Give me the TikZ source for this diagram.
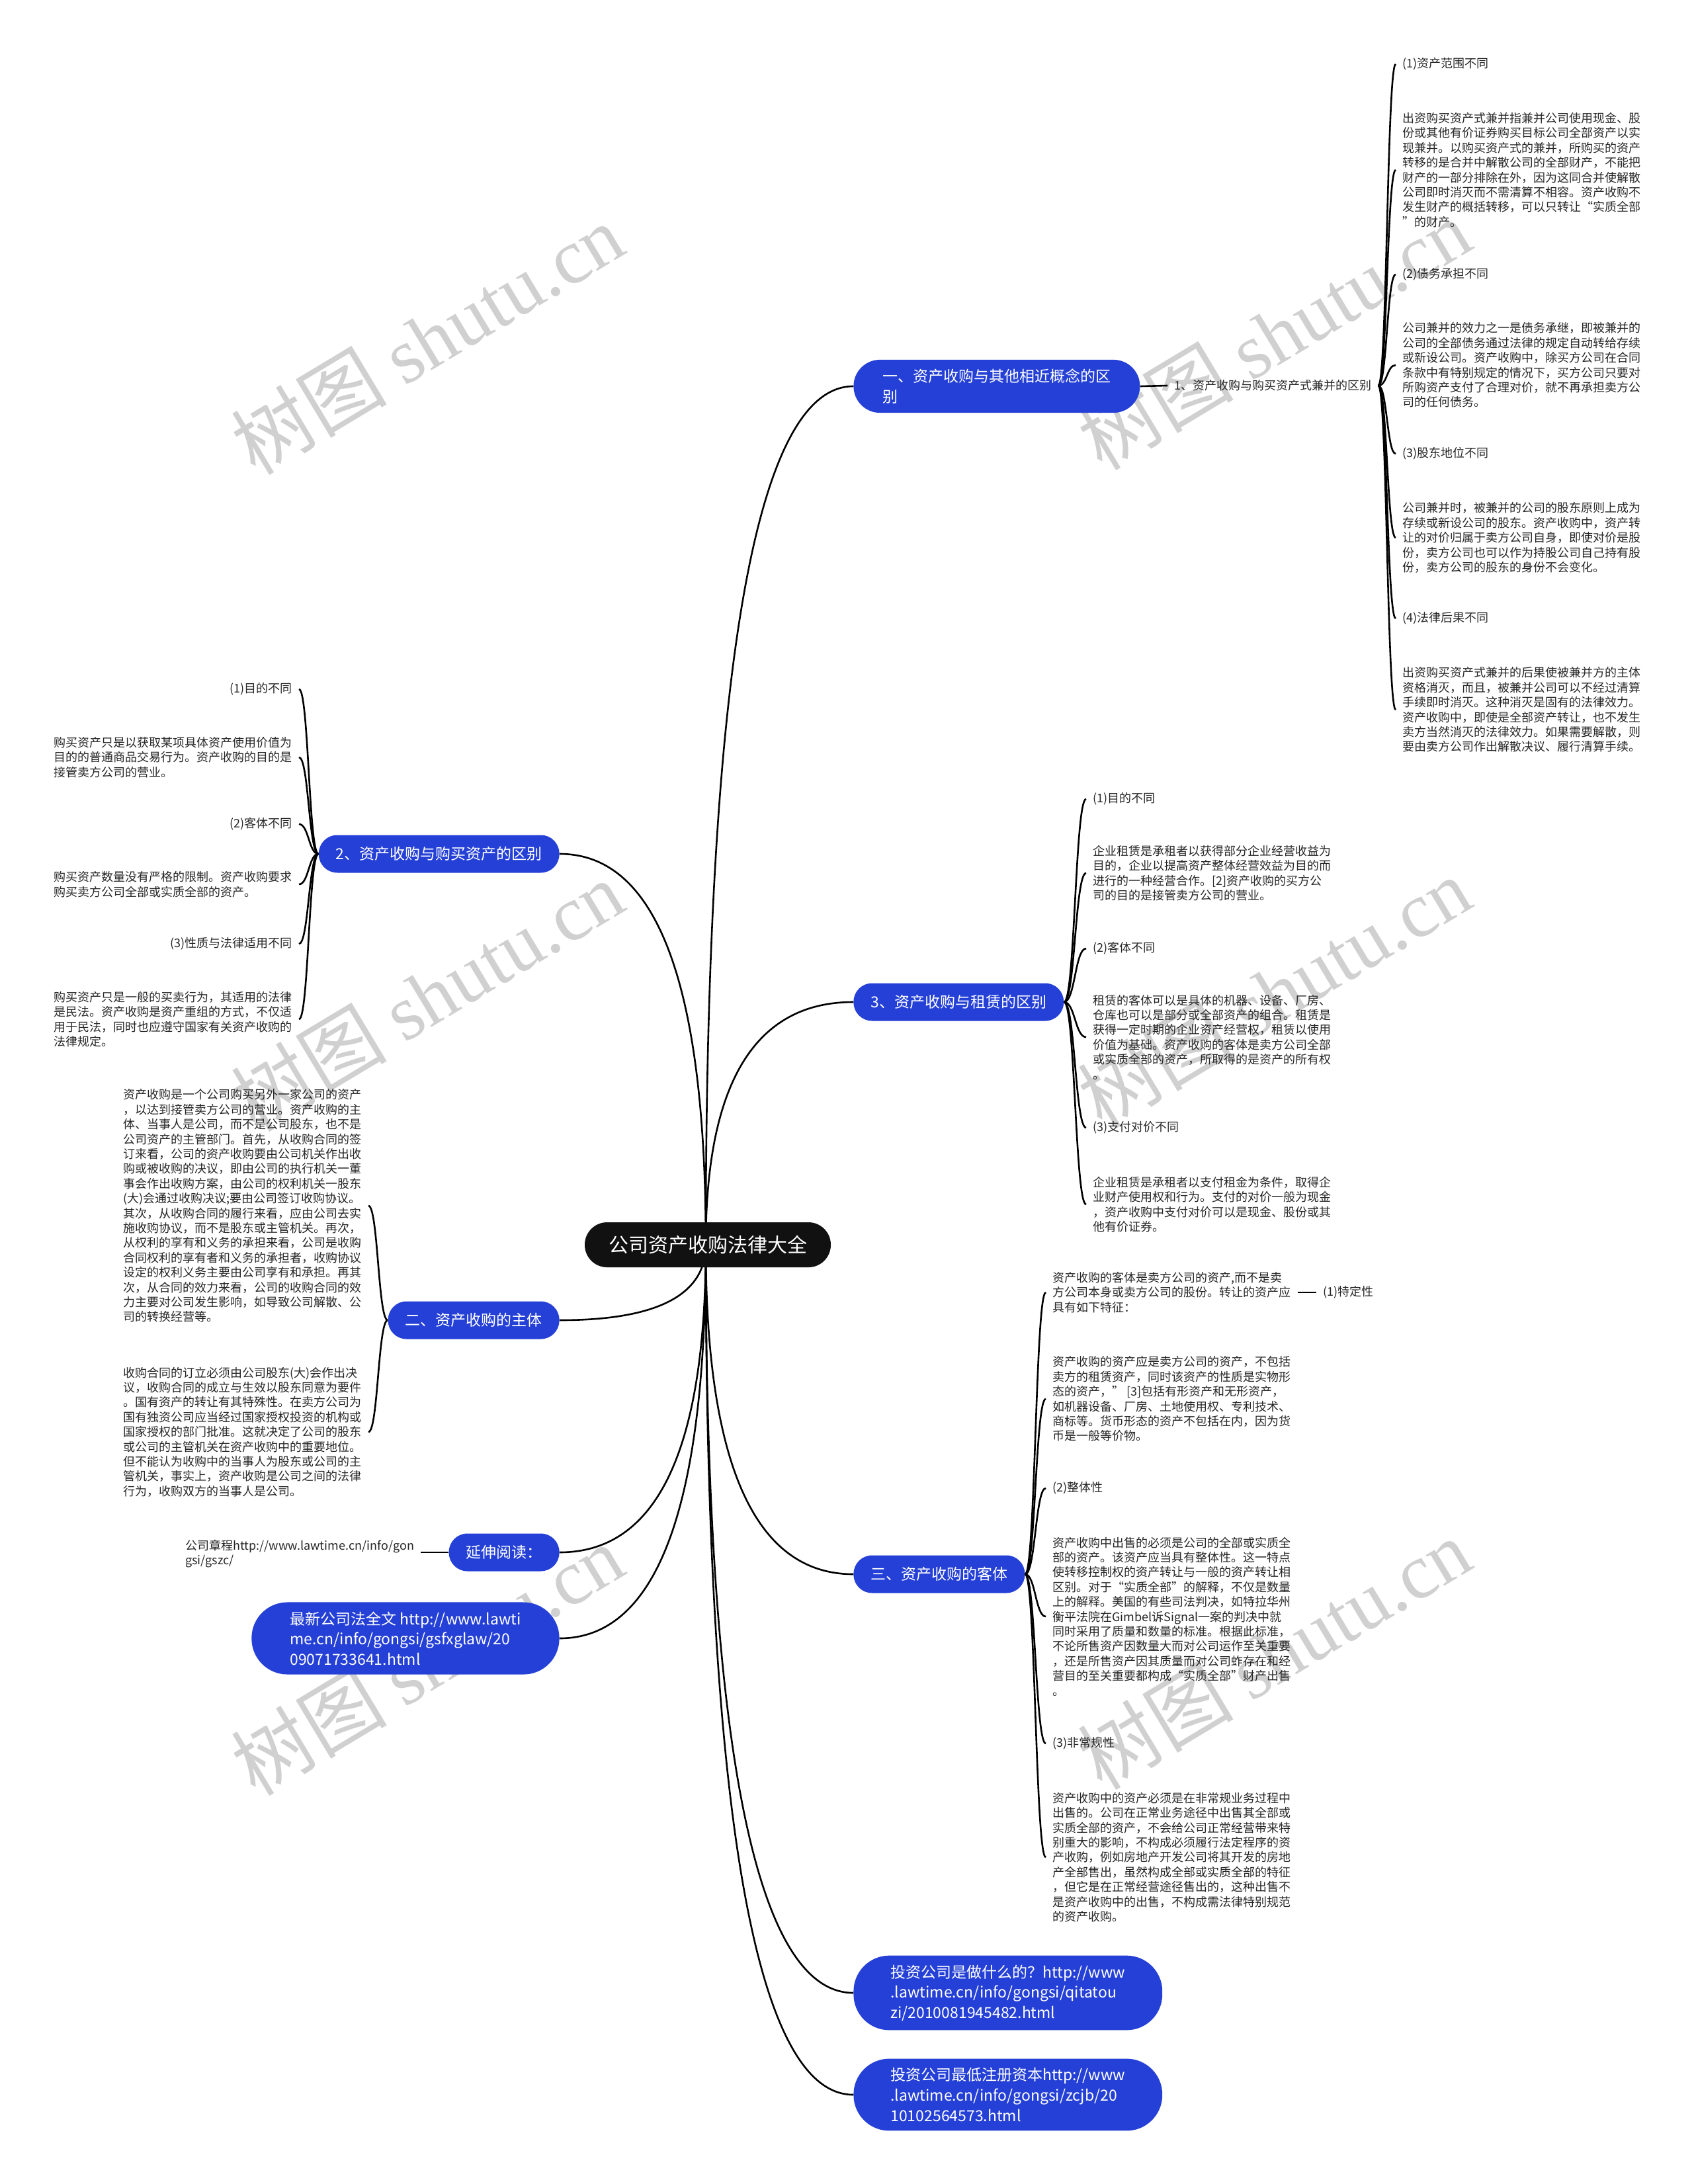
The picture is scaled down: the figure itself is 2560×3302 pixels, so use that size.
\documentclass[tikz,border=0pt]{standalone}
\usepackage{fontspec}
\setmainfont{Noto Sans CJK SC}
\newfontfamily\wmserif{Liberation Serif}
\usetikzlibrary{calc}
\definecolor{nodeblue}{RGB}{37,64,214}
\definecolor{rootblack}{RGB}{17,17,17}
\definecolor{wmgray}{RGB}{208,208,208}
\tikzset{
  conn/.style={line width=1.3pt, black},
  txt/.style={font=\fontsize{9.0}{11.2}\selectfont, inner xsep=5pt, inner ysep=2pt, align=left, text=black!85},
  bluebox/.style={fill=nodeblue, text=white, font=\fontsize{11.5}{15.3}\selectfont, rounded corners=14pt, minimum height=28.5pt, inner xsep=13pt, inner ysep=4pt},
  bluemulti/.style={fill=nodeblue, text=white, font=\fontsize{11.5}{15.3}\selectfont, align=left, inner ysep=7pt},
  rootbox/.style={fill=rootblack, text=white, font=\fontsize{15}{18}\selectfont, rounded corners=16.9pt, minimum height=34pt, inner xsep=18pt},
  wm/.style={text=wmgray, font=\fontsize{59}{62}\selectfont, rotate=31, inner sep=0pt}
}
\newcommand\cedge[1]{\draw[conn] let \p1=(S), \p2=(#1) in (\p1) .. controls (\x1,{\y1+2/3*(\y2-\y1)}) and ({\x2+2/3*(\x1-\x2)},\y2) .. (\p2);}
\newcommand\bedge[2]{\draw[conn] let \p1=(#1), \p2=(#2) in (\p1) .. controls ({(\x1+\x2)/2},\y1) and ({(\x1+\x2)/2},\y2) .. (\p2);}
\begin{document}
\begin{tikzpicture}[x=0.5pt,y=-0.5pt]
\fill[white] (0,0) rectangle (2560,3302);
\useasboundingbox (0,0) rectangle (2560,3302);
% watermarks
\node[wm] (w1) at (646,512) {树图 {\wmserif shutu.cn}};
\node[wm] (w2) at (646,1505) {树图 {\wmserif shutu.cn}};
\node[wm] (w3) at (646,2509) {树图 {\wmserif shutu.cn}};
\node[wm] (w4) at (1926,505) {树图 {\wmserif shutu.cn}};
\node[wm] (w5) at (1926,1500) {树图 {\wmserif shutu.cn}};
\node[wm] (w6) at (1926,2500) {树图 {\wmserif shutu.cn}};

\coordinate (S) at (1067,1882);

% ---------- branch 一 ----------
\node[bluemulti, anchor=west, rounded corners=20pt, inner xsep=22pt] (b1) at (1290,584) {一、资产收购与其他相近概念的区\\别};
\node[txt, anchor=west] (s1) at (1765,583) {1、资产收购与购买资产式兼并的区别};
\draw[conn] (b1.east) -- (s1.west);
\node[txt, anchor=west] (c11) at (2110,97) {(1)资产范围不同};
\node[txt, anchor=west] (c12) at (2110,257) {出资购买资产式兼并指兼并公司使用现金、股\\份或其他有价证券购买目标公司全部资产以实\\现兼并。以购买资产式的兼并，所购买的资产\\转移的是合并中解散公司的全部财产，不能把\\财产的一部分排除在外，因为这同合并使解散\\公司即时消灭而不需清算不相容。资产收购不\\发生财产的概括转移，可以只转让“实质全部\\”的财产。};
\node[txt, anchor=west] (c13) at (2110,415) {(2)债务承担不同};
\node[txt, anchor=west] (c14) at (2110,552) {公司兼并的效力之一是债务承继，即被兼并的\\公司的全部债务通过法律的规定自动转给存续\\或新设公司。资产收购中，除买方公司在合同\\条款中有特别规定的情况下，买方公司只要对\\所购资产支付了合理对价，就不再承担卖方公\\司的任何债务。};
\node[txt, anchor=west] (c15) at (2110,686) {(3)股东地位不同};
\node[txt, anchor=west] (c16) at (2110,813) {公司兼并时，被兼并的公司的股东原则上成为\\存续或新设公司的股东。资产收购中，资产转\\让的对价归属于卖方公司自身，即使对价是股\\份，卖方公司也可以作为持股公司自己持有股\\份，卖方公司的股东的身份不会变化。};
\node[txt, anchor=west] (c17) at (2110,935) {(4)法律后果不同};
\node[txt, anchor=west] (c18) at (2110,1073) {出资购买资产式兼并的后果使被兼并方的主体\\资格消灭，而且，被兼并公司可以不经过清算\\手续即时消灭。这种消灭是固有的法律效力。\\资产收购中，即使是全部资产转让，也不发生\\卖方当然消灭的法律效力。如果需要解散，则\\要由卖方公司作出解散决议、履行清算手续。};
\foreach \c in {c11,c12,c13,c14,c15,c16,c17,c18} {\bedge{s1.east}{\c.west}}

% ---------- branch 2 ----------
\node[bluebox, anchor=east] (b2) at (846,1291) {2、资产收购与购买资产的区别};
\node[txt, anchor=east, align=right] (c21) at (452,1042) {(1)目的不同};
\node[txt, anchor=east] (c22) at (452,1145) {购买资产只是以获取某项具体资产使用价值为\\目的的普通商品交易行为。资产收购的目的是\\接管卖方公司的营业。};
\node[txt, anchor=east, align=right] (c23) at (452,1246) {(2)客体不同};
\node[txt, anchor=east] (c24) at (452,1337) {购买资产数量没有严格的限制。资产收购要求\\购买卖方公司全部或实质全部的资产。};
\node[txt, anchor=east, align=right] (c25) at (452,1427) {(3)性质与法律适用不同};
\node[txt, anchor=east] (c26) at (452,1541) {购买资产只是一般的买卖行为，其适用的法律\\是民法。资产收购是资产重组的方式，不仅适\\用于民法，同时也应遵守国家有关资产收购的\\法律规定。};
\foreach \c in {c21,c22,c23,c24,c25,c26} {\bedge{b2.west}{\c.east}}

% ---------- branch 二 ----------
\node[bluebox, anchor=east] (b3) at (846,1996) {二、资产收购的主体};
\node[txt, anchor=east] (c31) at (557,1823) {资产收购是一个公司购买另外一家公司的资产\\，以达到接管卖方公司的营业。资产收购的主\\体、当事人是公司，而不是公司股东，也不是\\公司资产的主管部门。首先，从收购合同的签\\订来看，公司的资产收购要由公司机关作出收\\购或被收购的决议，即由公司的执行机关一董\\事会作出收购方案，由公司的权利机关一股东\\(大)会通过收购决议;要由公司签订收购协议。\\其次，从收购合同的履行来看，应由公司去实\\施收购协议，而不是股东或主管机关。再次，\\从权利的享有和义务的承担来看，公司是收购\\合同权利的享有者和义务的承担者，收购协议\\设定的权利义务主要由公司享有和承担。再其\\次，从合同的效力来看，公司的收购合同的效\\力主要对公司发生影响，如导致公司解散、公\\司的转换经营等。};
\node[txt, anchor=east] (c32) at (557,2165) {收购合同的订立必须由公司股东(大)会作出决\\议，收购合同的成立与生效以股东同意为要件\\。国有资产的转让有其特殊性。在卖方公司为\\国有独资公司应当经过国家授权投资的机构或\\国家授权的部门批准。这就决定了公司的股东\\或公司的主管机关在资产收购中的重要地位。\\但不能认为收购中的当事人为股东或公司的主\\管机关，事实上，资产收购是公司之间的法律\\行为，收购双方的当事人是公司。};
\foreach \c in {c31,c32} {\bedge{b3.west}{\c.east}}

% ---------- 延伸阅读 ----------
\node[bluebox, anchor=east] (b4) at (846,2347) {延伸阅读：};
\node[txt, anchor=west] (c41) at (270,2349) {公司章程http://www.lawtime.cn/info/gon\\gsi/gszc/};
\draw[conn] (b4.west) -- (b4.west -| c41.east);

% ---------- 最新公司法全文 ----------
\node[bluemulti, anchor=east, inner xsep=29pt, rounded corners=27pt] (b5) at (846,2477) {最新公司法全文 http://www.lawti\\me.cn/info/gongsi/gsfxglaw/20\\09071733641.html};

% ---------- branch 3 ----------
\node[bluebox, anchor=west] (b6) at (1290,1515) {3、资产收购与租赁的区别};
\node[txt, anchor=west] (c61) at (1642,1208) {(1)目的不同};
\node[txt, anchor=west] (c62) at (1642,1320) {企业租赁是承租者以获得部分企业经营收益为\\目的，企业以提高资产整体经营效益为目的而\\进行的一种经营合作。[2]资产收购的买方公\\司的目的是接管卖方公司的营业。};
\node[txt, anchor=west] (c63) at (1642,1434) {(2)客体不同};
\node[txt, anchor=west] (c64) at (1642,1568) {租赁的客体可以是具体的机器、设备、厂房、\\仓库也可以是部分或全部资产的组合。租赁是\\获得一定时期的企业资产经营权，租赁以使用\\价值为基础。资产收购的客体是卖方公司全部\\或实质全部的资产，所取得的是资产的所有权\\。};
\node[txt, anchor=west] (c65) at (1642,1705) {(3)支付对价不同};
\node[txt, anchor=west] (c66) at (1642,1821) {企业租赁是承租者以支付租金为条件，取得企\\业财产使用权和行为。支付的对价一般为现金\\，资产收购中支付对价可以是现金、股份或其\\他有价证券。};
\foreach \c in {c61,c62,c63,c64,c65,c66} {\bedge{b6.east}{\c.west}}

% ---------- branch 三 ----------
\node[bluebox, anchor=west] (b7) at (1290,2380) {三、资产收购的客体};
\node[txt, anchor=west] (c71) at (1581,1954) {资产收购的客体是卖方公司的资产,而不是卖\\方公司本身或卖方公司的股份。转让的资产应\\具有如下特征：};
\node[txt, anchor=west] (c71a) at (1990,1954) {(1)特定性};
\draw[conn] (c71.east) -- (c71a.west);
\node[txt, anchor=west] (c72) at (1581,2115) {资产收购的资产应是卖方公司的资产，不包括\\卖方的租赁资产，同时该资产的性质是实物形\\态的资产，” [3]包括有形资产和无形资产，\\如机器设备、厂房、土地使用权、专利技术、\\商标等。货币形态的资产不包括在内，因为货\\币是一般等价物。};
\node[txt, anchor=west] (c73) at (1581,2250) {(2)整体性};
\node[txt, anchor=west] (c74) at (1581,2444) {资产收购中出售的必须是公司的全部或实质全\\部的资产。该资产应当具有整体性。这一特点\\使转移控制权的资产转让与一般的资产转让相\\区别。对于“实质全部”的解释，不仅是数量\\上的解释。美国的有些司法判决，如特拉华州\\衡平法院在Gimbel诉Signal一案的判决中就\\同时采用了质量和数量的标准。根据此标准，\\不论所售资产因数量大而对公司运作至关重要\\，还是所售资产因其质量而对公司蚱存在和经\\营目的至关重要都构成“实质全部”财产出售\\。};
\node[txt, anchor=west] (c75) at (1581,2636) {(3)非常规性};
\node[txt, anchor=west] (c76) at (1581,2808) {资产收购中的资产必须是在非常规业务过程中\\出售的。公司在正常业务途径中出售其全部或\\实质全部的资产，不会给公司正常经营带来特\\别重大的影响，不构成必须履行法定程序的资\\产收购，例如房地产开发公司将其开发的房地\\产全部售出，虽然构成全部或实质全部的特征\\，但它是在正常经营途径售出的，这种出售不\\是资产收购中的出售，不构成需法律特别规范\\的资产收购。};
\foreach \c in {c71,c72,c73,c74,c75,c76} {\bedge{b7.east}{\c.west}}

% ---------- bottom links ----------
\node[bluemulti, anchor=west, inner xsep=28pt, rounded corners=27pt] (b8) at (1290,3013) {投资公司是做什么的？http://www\\.lawtime.cn/info/gongsi/qitatou\\zi/2010081945482.html};
\node[bluemulti, anchor=west, inner xsep=28pt, rounded corners=27pt] (b9) at (1290,3167) {投资公司最低注册资本http://www\\.lawtime.cn/info/gongsi/zcjb/20\\10102564573.html};

% ---------- root edges ----------
\cedge{b1.west}
\cedge{b2.east}
\cedge{b3.east}
\cedge{b4.east}
\cedge{b5.east}
\cedge{b6.west}
\cedge{b7.west}
\cedge{b8.west}
\cedge{b9.west}

\node[rootbox] (root) at (1070,1882) {公司资产收购法律大全};
\end{tikzpicture}
\end{document}
